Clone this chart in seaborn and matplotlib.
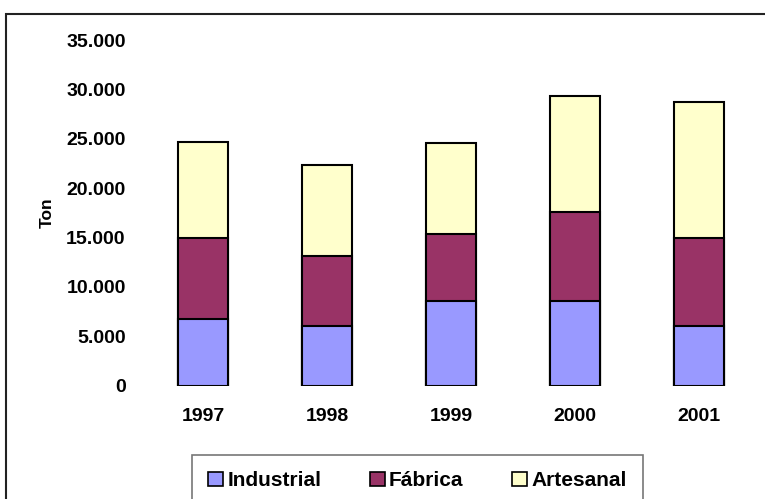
import numpy as np
import pandas as pd
import matplotlib
matplotlib.use('Agg')
import matplotlib.pyplot as plt
from matplotlib.patches import Rectangle, Patch
import seaborn as sns

sns.set_style('white')
plt.rcParams['font.family'] = ['Liberation Sans', 'DejaVu Sans']
plt.rcParams['font.weight'] = 'bold'
plt.rcParams['text.color'] = 'black'
plt.rcParams['xtick.color'] = 'black'
plt.rcParams['ytick.color'] = 'black'
plt.rcParams['axes.labelcolor'] = 'black'

# Data (tonnes)
years = ['1997', '1998', '1999', '2000', '2001']
industrial = [6700, 6000, 8600, 8600, 6000]
fabrica = [8300, 7100, 6800, 9000, 9000]
artesanal = [9700, 9300, 9200, 11800, 13700]
series_names = ['Industrial', 'Fábrica', 'Artesanal']
colors = ['#9999FF', '#993366', '#FFFFCC']

# cumulative tops so the stack can be drawn back to front
cum = np.cumsum([industrial, fabrica, artesanal], axis=0)

fig = plt.figure(figsize=(7.65, 4.99), dpi=100)
ax = fig.add_axes([141 / 765, (499 - 385.5) / 499, 620 / 765, 345.2 / 499])

for i in reversed(range(3)):
    df = pd.DataFrame({'Year': years, 'Ton': cum[i]})
    sns.barplot(data=df, x='Year', y='Ton', color=colors[i], width=0.4,
                edgecolor='black', linewidth=1.5, saturation=1, ax=ax)

ax.set_ylim(0, 35000)
ax.set_xlim(-0.5, 4.5)
yt = np.arange(0, 35001, 5000)
ax.set_yticks(yt)
ax.set_yticklabels([f"{v:,.0f}".replace(',', '.') for v in yt])
ax.tick_params(axis='y', length=0, pad=11, labelsize=14)
ax.tick_params(axis='x', length=0, pad=16, labelsize=14)
for lab in ax.get_xticklabels() + ax.get_yticklabels():
    lab.set_fontweight('bold')
ax.set_xlabel('')
ax.set_ylabel('Ton', fontsize=12.5, fontweight='bold', labelpad=8)
sns.despine(ax=ax, left=True, bottom=True)

# outer chart frame (runs off the right and bottom edges)
fig.patches.append(Rectangle((6 / 765, -0.1), 1.1, 1.1 - 14 / 499, transform=fig.transFigure,
                             fill=False, edgecolor='#222222', linewidth=1.5))

handles = [Patch(facecolor=c, edgecolor='black', linewidth=1.2) for c in colors]
leg = fig.legend(handles, series_names, loc='upper center', ncol=3,
                 bbox_to_anchor=(417.5 / 765, 1 - 454.7 / 499),
                 frameon=True, fancybox=False, edgecolor='#555555',
                 prop={'weight': 'bold', 'size': 15},
                 handlelength=0.7, handleheight=0.7, handletextpad=0.2,
                 columnspacing=2.35, borderpad=0.8, borderaxespad=0)
leg.get_frame().set_linewidth(1.2)

fig.savefig('out.png', dpi=100)
